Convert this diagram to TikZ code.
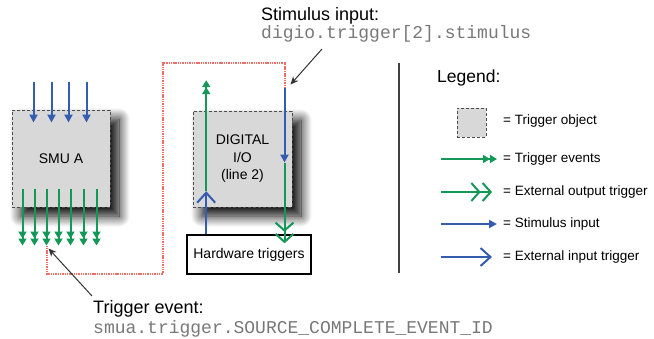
\documentclass[tikz,border=0pt]{standalone}
\usepackage{fontspec}
\setmainfont{Liberation Sans}
\setmonofont{Liberation Mono}
\usepackage{xcolor}
\usepackage{tikz}
\usetikzlibrary{arrows.meta,shadows.blur,calc,positioning}

\definecolor{evtgreen}{RGB}{20,152,88}
\definecolor{stimblue}{RGB}{52,92,176}
\definecolor{linkred}{RGB}{238,110,100}
\definecolor{objgray}{RGB}{216,216,216}
\definecolor{codegray}{RGB}{120,120,120}

\begin{document}
\begin{tikzpicture}[x=1pt, y=-1pt,
  trigobj/.style={rectangle, draw=black!70, fill=objgray, dash pattern=on 3pt off 2pt, line width=1pt, font=\fontsize{14}{17.5}\selectfont},
  dropshadow/.style={blur shadow={shadow xshift=9pt, shadow yshift=-9pt, shadow blur radius=11pt, shadow blur steps=18, shadow opacity=100}},
  hwbox/.style={rectangle, draw, line width=1.6pt, fill=white, minimum width=124pt, minimum height=39pt, font=\fontsize{14}{16}\selectfont},
  evt/.style={draw=evtgreen, line width=2pt, -{Triangle[length=7pt,width=8pt]Triangle[length=7pt,width=8pt]}},
  extout/.style={draw=evtgreen, line width=2pt, -{Straight Barb[length=8pt,width=18pt,sep=1pt]Straight Barb[length=8pt,width=18pt]}},
  stim/.style={draw=stimblue, line width=2pt, -{Triangle[length=8pt,width=8pt]}},
  extin/.style={draw=stimblue, line width=2pt, -{Straight Barb[length=10pt,width=18pt]}},
  linkpath/.style={draw=linkred, line width=2pt, dash pattern=on 1.4pt off 0.9pt},
  leader/.style={draw=black!80, line width=1pt, -{Stealth[length=8pt,width=7pt]}},
  callout/.style={align=left, inner sep=0pt, anchor=north west},
  legtext/.style={font=\fontsize{13.5}{16}\selectfont, anchor=west, inner sep=0pt}]

  \useasboundingbox (0,0) rectangle (654,338);

  % trigger objects
  \node[trigobj, dropshadow, minimum width=98pt, minimum height=97pt] (smu) at (61,158.5) {SMU A};
  \node[trigobj, dropshadow, minimum width=99pt, minimum height=96pt, align=center] (dio) at (242.5,159) {DIGITAL\\I/O\\(line 2)};
  \node[hwbox] (hw) at (249,254.5) {Hardware triggers};

  \foreach \x in {22,40,57,75}
    \draw[stim] ($(smu.north west)+(\x,-28)$) -- ++(0,41);
  \foreach \x [count=\i] in {11,23,35,47,59,72,85}
    \draw[evt] ($(smu.south west)+(\x,-19)$) -- ++(0,57) coordinate (out\i);

  \coordinate (stimtop) at ($(dio.north east)+(-8,-23)$);
  \draw[stim] (stimtop) -- ++(0,75) coordinate (stimend);
  \draw[extout] (stimend) -- ([yshift=-9pt]stimend |- hw.north);

  \coordinate (inbase) at ($(hw.north west)+(20,0)$);
  \draw[extin] (inbase) -- ++(0,-43) coordinate (inend);
  \draw[evt] (inend) -- ++(0,-111);

  \draw[linkpath] (out3) -- ++(0,28) -- ++(116,0) -- ++(0,-211) -| (stimtop);

  % callouts
  \node[callout, font=\fontsize{18}{15}\selectfont] (stimlbl) at (261,7)
    {Stimulus input:\\\textcolor{codegray}{\ttfamily digio.trigger[2].stimulus}};
  \node[callout, font=\fontsize{18}{20}\selectfont] (evtlbl) at (93,300)
    {Trigger event:\\\textcolor{codegray}{\ttfamily smua.trigger.SOURCE\_COMPLETE\_EVENT\_ID}};
  \coordinate (stimtail) at (322,49);
  \draw[leader] (stimtail) -- ($(stimtop)+(6,-3)$);
  \draw[leader] ($(evtlbl.north west)+(-1,-4)$) -- ($(out3)+(2,3)$);

  % legend
  \coordinate (septop) at (399,63);
  \coordinate (sepbot) at (399,273);
  \draw[black!75, line width=1.6pt] (septop) -- (sepbot);

  \node[font=\fontsize{17.5}{20}\selectfont, anchor=west, inner sep=0pt] (legend) at (437,78) {Legend:};
  \node[trigobj, minimum size=29pt] (legobj) at (471.5,122.5) {};
  \node[legtext] (lgobj) at (503,121) {= Trigger object};
  \node[legtext] (lgevt) at (503,159) {= Trigger events};
  \node[legtext] (lgout) at (503,192) {= External output trigger};
  \node[legtext] (lgstim) at (503,224) {= Stimulus input};
  \node[legtext] (lgin) at (503,257) {= External input trigger};

  \draw[evt] ($(lgevt.west)+(-62,0)$) -- ++(56,0);
  \draw[extout] ($(lgout.west)+(-62,0)$) -- ++(51,0);
  \draw[stim] ($(lgstim.west)+(-62,0)$) -- ++(56,0);
  \draw[extin] ($(lgin.west)+(-62,0)$) -- ++(51,0);

\end{tikzpicture}
\end{document}
